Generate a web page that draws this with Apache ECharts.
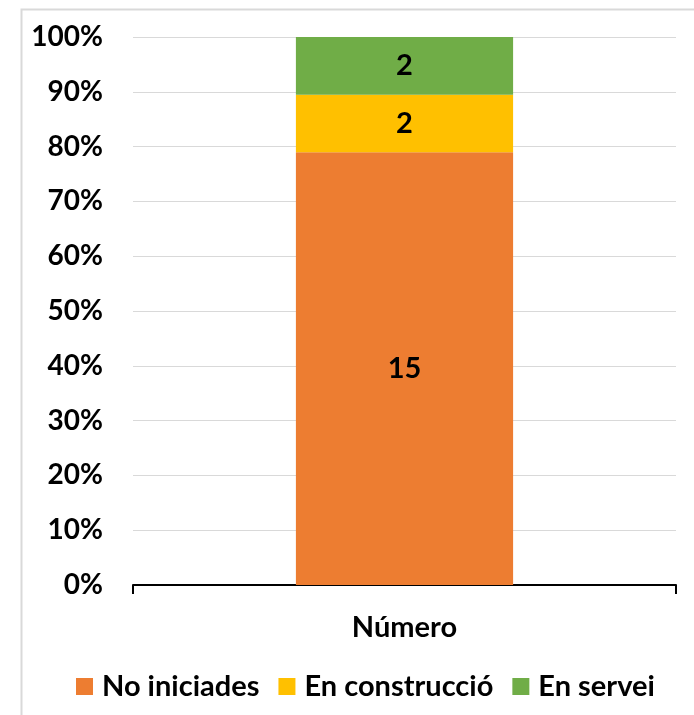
<!DOCTYPE html>
<html><head><meta charset="utf-8">
<script src="https://cdn.jsdelivr.net/npm/echarts@6/dist/echarts.min.js"></script>
<style>html,body{margin:0;padding:0;background:#fff}#c{width:694px;height:715px}</style>
</head><body><div id="c"></div>
<script>
const categories = ['Número'];
const seriesNames = ['No iniciades', 'En construcció', 'En servei'];
const noIniciades = [15];
const enConstruccio = [2];
const enServei = [2];
const colors = ['#ED7D31', '#FFC000', '#70AD47'];
const FONT = 'Lato';

const raw = [noIniciades, enConstruccio, enServei];
const totals = categories.map((_, i) => raw.reduce((s, arr) => s + arr[i], 0));

const chart = echarts.init(document.getElementById('c'));
chart.setOption({
  animation: false,
  textStyle: { fontFamily: FONT },
  graphic: [{
    type: 'rect', left: 19, top: 7, shape: { width: 700, height: 720 },
    style: { fill: 'none', stroke: '#d9d9d9', lineWidth: 2 }, silent: true, z: -1
  }],
  grid: { left: 133, right: 18, top: 37, bottom: 130 },
  legend: {
    top: 667, left: 71, itemWidth: 17, itemHeight: 17, itemGap: 19,
    icon: 'rect',
    textStyle: { fontFamily: FONT, fontWeight: 'bold', fontSize: 29, color: '#000', padding: [0, 0, 0, 4] },
    data: seriesNames
  },
  xAxis: {
    type: 'category', data: categories,
    axisLine: { lineStyle: { color: '#000', width: 2 } },
    axisTick: { show: true, length: 9, lineStyle: { color: '#000', width: 2 } },
    axisLabel: { fontFamily: FONT, fontWeight: 'bold', fontSize: 29, color: '#000', margin: 28 }
  },
  yAxis: {
    type: 'value', min: 0, max: 100, interval: 10,
    axisLabel: { formatter: '{value}%', fontFamily: FONT, fontWeight: 'bold', fontSize: 28, color: '#000', margin: 30 },
    splitLine: { lineStyle: { color: '#d9d9d9', width: 1 } },
    axisLine: { show: false }, axisTick: { show: false }
  },
  series: seriesNames.map((name, k) => ({
    name, type: 'bar', stack: 'total', barWidth: '40%',
    itemStyle: { color: colors[k] },
    label: {
      show: true, position: 'inside', fontFamily: FONT, fontWeight: 'bold', fontSize: 29, color: '#000',
      formatter: p => String(raw[k][p.dataIndex])
    },
    data: raw[k].map((v, i) => v / totals[i] * 100)
  }))
});
</script></body></html>
